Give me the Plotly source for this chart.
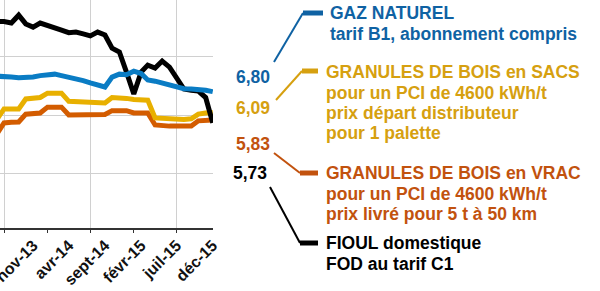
import plotly.graph_objects as go

# ---- data (c€/kWh, monthly) ----
months = ["2013-06-01", "2013-07-01", "2013-08-01", "2013-09-01", "2013-10-01", "2013-11-01", "2013-12-01",
          "2014-01-01", "2014-02-01", "2014-03-01", "2014-04-01", "2014-05-01", "2014-06-01",
          "2014-07-01", "2014-08-01", "2014-09-01", "2014-10-01", "2014-11-01", "2014-12-01",
          "2015-01-01", "2015-02-01", "2015-03-01", "2015-04-01", "2015-05-01", "2015-06-01",
          "2015-07-01", "2015-08-01", "2015-09-01", "2015-10-01", "2015-11-01", "2015-12-01"]

gaz = [7.33, 7.33, 7.30, 7.28, 7.27, 7.30, 7.35, 7.37, 7.40, 7.35, 7.30, 7.25, 7.18,
       7.10, 7.02, 6.96, 7.30, 7.40, 7.38, 7.50, 7.42, 7.20, 7.16, 7.10, 7.00,
       6.96, 6.90, 6.89, 6.89, 6.85, 6.80]
sacs = [5.85, 6.21, 6.21, 6.21, 6.55, 6.58, 6.60, 6.75, 6.75, 6.75, 6.47, 6.45, 6.43,
        6.42, 6.41, 6.41, 6.60, 6.60, 6.57, 6.53, 6.51, 6.51, 5.90, 5.88, 5.86,
        5.84, 5.85, 5.87, 6.03, 6.07, 6.09]
vrac = [5.35, 5.73, 5.75, 5.76, 6.03, 6.05, 6.07, 6.27, 6.27, 6.27, 6.00, 6.00, 6.00,
        6.00, 6.00, 6.02, 6.15, 6.17, 6.15, 6.07, 6.07, 6.07, 5.66, 5.63, 5.62,
        5.62, 5.62, 5.62, 5.80, 5.83, 5.83]
fioul = [9.20, 9.20, 9.15, 9.42, 9.12, 9.01, 9.15, 9.08, 9.01, 8.91, 8.82, 8.84, 8.78,
         8.71, 8.84, 8.74, 8.29, 8.16, 7.47, 6.72, 7.47, 7.71, 7.61, 7.85, 7.64,
         7.25, 6.89, 6.85, 6.82, 6.60, 5.73]

label_months = ["2013-11-01", "2014-04-01", "2014-09-01", "2015-02-01", "2015-07-01", "2015-12-01"]
label_text = ["nov-13", "avr-14", "sept-14", "févr-15", "juil-15", "déc-15"]
tick_months = ["2013-07-01", "2014-01-01", "2014-07-01", "2015-01-01", "2015-07-01"]
grid_months = ["2013-07-01", "2014-07-01", "2015-07-01"]

end_values = ["6,80", "6,09", "5,83", "5,73"]
names = ["gaz", "sacs", "vrac", "fioul"]
legend_lines = {
    "gaz": ["GAZ NATUREL", "tarif B1, abonnement compris"],
    "sacs": ["GRANULES DE BOIS en SACS", "pour un PCI de 4600 kWh/t",
             "prix départ distributeur", "pour 1 palette"],
    "vrac": ["GRANULES DE BOIS en VRAC", "pour un PCI de 4600 kWh/t",
             "prix livré pour 5 t à 50 km"],
    "fioul": ["FIOUL domestique", "FOD au tarif C1"],
}

line_col = {"gaz": "#0a7cc4", "sacs": "#e8b000", "vrac": "#d35c00", "fioul": "#000000"}
text_col = {"gaz": "#0f62a3", "sacs": "#d6a010", "vrac": "#c2520e", "fioul": "#000000"}

W, H = 600, 291
FONT = "Arial, Liberation Sans, sans-serif"

fig = go.Figure()
series = {"gaz": gaz, "sacs": sacs, "vrac": vrac, "fioul": fioul}
for key in ["vrac", "sacs", "fioul", "gaz"]:
    fig.add_trace(go.Scatter(x=months, y=series[key], mode="lines",
                             line=dict(color=line_col[key], width=5),
                             showlegend=False, hoverinfo="skip"))
# helper trace for the secondary x axis (tick marks)
fig.add_trace(go.Scatter(x=tick_months, y=[None] * len(tick_months), xaxis="x2",
                         mode="lines", showlegend=False, hoverinfo="skip"))

xr = ["2013-06-14", "2015-12-02"]
xdom = [0, 213 / W]
ydom = [1 - 228 / H, 1]

fig.update_layout(
    width=W, height=H, margin=dict(l=0, r=0, t=0, b=0),
    paper_bgcolor="white", plot_bgcolor="white",
    xaxis=dict(domain=xdom, range=xr, type="date",
               tickmode="array", tickvals=label_months,
               ticktext=[f"<b>{t}</b>" for t in label_text],
               ticks="", tickangle=-45, ticklabeloverflow="allow",
               tickfont=dict(family=FONT, size=16, color="#111111"),
               showgrid=False, showline=True, linecolor="#333333", linewidth=1.5,
               zeroline=False, automargin=False,
               minor=dict(tickmode="array", tickvals=grid_months, showgrid=True,
                          gridcolor="#d0d0d0", gridwidth=1, ticks="")),
    xaxis2=dict(domain=xdom, range=xr, type="date", overlaying="x", anchor="y",
                side="bottom", tickmode="array", tickvals=tick_months,
                ticks="outside", ticklen=4, tickcolor="#333333", tickwidth=1,
                showticklabels=False, showgrid=False, showline=False,
                zeroline=False, automargin=False),
    yaxis=dict(domain=ydom, range=[2.13, 9.94], dtick=2, tick0=0,
               showticklabels=False, showgrid=True, gridcolor="#d0d0d0",
               gridwidth=1, showline=False, zeroline=False, automargin=False),
)

def px(x, y):
    return x / W, 1 - y / H

annotations = []
shapes = []

# value labels
val_pos = {"gaz": (253, 77), "sacs": (253, 108), "vrac": (253, 144), "fioul": (250, 173)}
for key, val in zip(names, end_values):
    x, y = px(*val_pos[key])
    annotations.append(dict(x=x, y=y, xref="paper", yref="paper", text=f"<b>{val}</b>",
                            showarrow=False, xanchor="center", yanchor="middle",
                            font=dict(family=FONT, size=17.5, color=text_col[key])))

# legend texts
text_start = {"gaz": (328, 13), "sacs": (324, 72), "vrac": (324, 173), "fioul": (324, 243)}
for key in names:
    x0, y0 = text_start[key]
    for i, line in enumerate(legend_lines[key]):
        x, y = px(x0, y0 + i * 20.5)
        annotations.append(dict(x=x, y=y, xref="paper", yref="paper", text=f"<b>{line}</b>",
                                showarrow=False, xanchor="left", yanchor="middle",
                                font=dict(family=FONT, size=17.5, color=text_col[key])))

# leader lines
leaders = {
    "gaz": ((274, 62), (303, 13), 323),
    "sacs": ((276, 100), (302, 71), 318),
    "vrac": ((274, 153), (300, 173), 318),
    "fioul": ((270, 187), (300, 243), 318),
}
for key, (a, b, xe) in leaders.items():
    ax, ay = px(*a)
    bx, by = px(*b)
    ex, ey = px(xe, b[1])
    shapes.append(dict(type="line", xref="paper", yref="paper", x0=ax, y0=ay, x1=bx, y1=by,
                       line=dict(color=text_col[key], width=2)))
    shapes.append(dict(type="line", xref="paper", yref="paper", x0=bx, y0=by, x1=ex, y1=ey,
                       line=dict(color=text_col[key], width=5)))

fig.update_layout(annotations=annotations, shapes=shapes)
fig.write_html("out.html")
